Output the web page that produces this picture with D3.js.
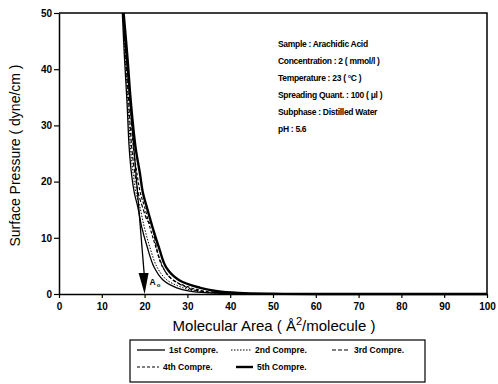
<!DOCTYPE html>
<html>
<head>
<meta charset="utf-8">
<script src="https://cdn.jsdelivr.net/npm/d3@7"></script>
<style>
  body { margin: 0; background: #fff; }
  text { font-family: "Liberation Sans", Arial, sans-serif; fill: #000; }
</style>
</head>
<body>
<div id="chart"></div>
<script>
// data
const xTicks = [0, 10, 20, 30, 40, 50, 60, 70, 80, 90, 100];
const yTicks = [0, 10, 20, 30, 40, 50];

const area1 = [14.8, 15.3, 15.9, 16.4, 17.0, 17.6, 18.4, 19.3, 20.6, 22.2, 24.3, 27.5, 30.5, 35, 45, 55, 100];
const pres1 = [50, 42, 34, 26, 21, 18, 15.5, 12, 8.4, 4.8, 2.5, 1.1, 0.5, 0.2, 0.05, 0, 0];
const area2 = [14.9, 15.5, 16.1, 16.7, 17.4, 18.0, 18.9, 19.9, 21.2, 22.9, 25.2, 29, 32, 36.5, 46, 56, 100];
const pres2 = [50, 42, 34, 26, 21, 18, 15.5, 12, 8.4, 4.8, 2.5, 1.1, 0.5, 0.2, 0.05, 0, 0];
const area3 = [15, 15.6, 16.3, 17.0, 17.8, 18.5, 19.5, 20.7, 21.6, 22.2, 23.4, 25.6, 30, 33, 37.5, 47, 57, 100];
const pres3 = [50, 42, 34, 26, 21, 18, 15.5, 13, 12.3, 10.5, 6.5, 3.2, 1.1, 0.5, 0.2, 0.05, 0, 0];
const area4 = [15, 15.8, 16.6, 17.4, 18.3, 19.0, 20.0, 21.2, 22.6, 24.2, 26.6, 30.8, 34, 39, 48, 58, 100];
const pres4 = [50, 42, 34, 26, 21, 18, 15.5, 12, 8.4, 4.8, 2.5, 1.1, 0.5, 0.2, 0.05, 0, 0];
const area5 = [15.1, 16, 16.8, 17.9, 18.9, 19.6, 20.5, 21.8, 23.3, 25, 28, 33, 37, 42, 50, 60, 100];
const pres5 = [50, 42, 34, 26, 21.5, 18, 15.5, 12, 8.4, 4.8, 2.5, 1.1, 0.5, 0.2, 0.05, 0, 0];

const seriesNames = ["1st Compre.", "2nd Compre.", "3rd Compre.", "4th Compre.", "5th Compre."];

// extrapolation arrow down to A0
const arrowArea = [14.9, 20];
const arrowPres = [50, 0];

const infoLines = [
  "Sample : Arachidic Acid",
  "Concentration : 2 ( mmol/l )",
  "Temperature : 23 ( \u00B0C )",
  "Spreading Quant. : 100 ( \u03BCl )",
  "Subphase : Distilled Water",
  "pH : 5.6"
];

const W = 498, H = 384;
const margin = { top: 13, right: 11, bottom: 90, left: 59 };

const svg = d3.select("#chart").append("svg")
  .attr("width", W).attr("height", H);

const x = d3.scaleLinear().domain([0, 100]).range([margin.left, W - margin.right]);
const y = d3.scaleLinear().domain([0, 50]).range([H - margin.bottom, margin.top]);

// axes
const xAxis = svg.append("g")
  .attr("transform", `translate(0,${y(0)})`)
  .call(d3.axisBottom(x).tickValues(xTicks).tickSize(4).tickSizeOuter(0));
const yAxis = svg.append("g")
  .attr("transform", `translate(${x(0)},0)`)
  .call(d3.axisLeft(y).tickValues(yTicks).tickSize(5).tickSizeOuter(0));
[xAxis, yAxis].forEach(a => {
  a.select(".domain").attr("stroke", "#000").attr("stroke-width", 1.5);
  a.selectAll(".tick line").attr("stroke", "#000").attr("stroke-width", 1.2);
  a.selectAll(".tick text")
    .style("font-family", "'Liberation Sans', Arial, sans-serif")
    .style("font-weight", "bold").style("font-size", "10px").attr("fill", "#000");
});
xAxis.selectAll(".tick text").attr("dy", "0.9em");
yAxis.selectAll(".tick text").attr("dx", "1px");

// frame top and right
svg.append("path")
  .attr("d", `M${x(0)},${y(50)}H${x(100)}V${y(0)}`)
  .attr("fill", "none").attr("stroke", "#000").attr("stroke-width", 1.5);

// curves
const styles = [
  { w: 1.3, dash: null },
  { w: 1, dash: "1.5,1.5" },
  { w: 1.2, dash: "4,2" },
  { w: 1.2, dash: "3,2" },
  { w: 2.4, dash: null }
];
const areas = [area1, area2, area3, area4, area5];
const press = [pres1, pres2, pres3, pres4, pres5];

const line = d3.line().x(d => x(d[0])).y(d => y(d[1])).curve(d3.curveCatmullRom.alpha(0.5));

areas.forEach((a, i) => {
  svg.append("path")
    .datum(a.map((v, j) => [v, press[i][j]]))
    .attr("d", line)
    .attr("fill", "none")
    .attr("stroke", "#000")
    .attr("stroke-width", styles[i].w)
    .attr("stroke-dasharray", styles[i].dash);
});

// arrow
svg.append("line")
  .attr("x1", x(arrowArea[0])).attr("y1", y(arrowPres[0]))
  .attr("x2", x(arrowArea[1])).attr("y2", y(arrowPres[1]) - 15)
  .attr("stroke", "#000").attr("stroke-width", 1.3);
svg.append("path")
  .attr("d", `M${x(arrowArea[1]) - 6},${y(0) - 21}L${x(arrowArea[1]) + 4},${y(0) - 21}L${x(arrowArea[1])},${y(0)}Z`)
  .attr("fill", "#000");
const a0 = svg.append("text")
  .attr("x", x(20) + 5).attr("y", y(0) - 9)
  .style("font-size", "8.5px").style("font-weight", "bold");
a0.append("tspan").text("A");
a0.append("tspan").attr("dy", 2).attr("dx", 1).style("font-size", "6px").text("o");

// info text
svg.append("g").selectAll("text")
  .data(infoLines)
  .join("text")
  .attr("x", 278)
  .attr("y", (d, i) => 47 + i * 17)
  .style("font-size", "8.5px")
  .style("font-weight", "bold")
  .style("letter-spacing", "-0.3px")
  .text(d => d);

// axis titles
const xt = svg.append("text")
  .attr("x", (x(0) + x(100)) / 2 + 1).attr("y", 331)
  .attr("text-anchor", "middle")
  .style("font-size", "15px");
xt.append("tspan").text("Molecular Area ( \u00C5");
xt.append("tspan").attr("dy", -6).style("font-size", "11px").text("2");
xt.append("tspan").attr("dy", 6).text("/molecule )");

svg.append("text")
  .attr("transform", `translate(20,${(y(0) + y(50)) / 2 + 2}) rotate(-90)`)
  .attr("text-anchor", "middle")
  .style("font-size", "14px")
  .text("Surface Pressure ( dyne/cm )");

// legend
const lg = svg.append("g");
lg.append("rect")
  .attr("x", 130).attr("y", 340).attr("width", 295).attr("height", 42)
  .attr("fill", "none").attr("stroke", "#000").attr("stroke-width", 1.2);
const legPos = [
  [137, 350, 28], [231, 350, 20], [332, 350, 18],
  [137, 367, 22], [236, 367, 17]
];
seriesNames.forEach((n, i) => {
  const [lx, ly, len] = legPos[i];
  lg.append("line")
    .attr("x1", lx).attr("x2", lx + len).attr("y1", ly).attr("y2", ly)
    .attr("stroke", "#000")
    .attr("stroke-width", styles[i].w)
    .attr("stroke-dasharray", styles[i].dash);
  lg.append("text")
    .attr("x", lx + len + 4).attr("y", ly + 3)
    .style("font-size", "8.5px").style("font-weight", "bold")
    .text(n);
});
</script>
</body>
</html>
